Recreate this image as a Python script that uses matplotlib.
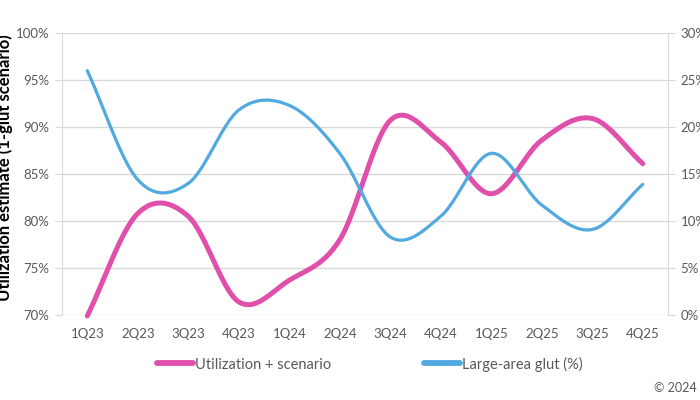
import numpy as np
import matplotlib
matplotlib.use("Agg")
import matplotlib.pyplot as plt
from matplotlib.ticker import FuncFormatter

quarters = ["1Q23", "2Q23", "3Q23", "4Q23", "1Q24", "2Q24", "3Q24", "4Q24",
            "1Q25", "2Q25", "3Q25", "4Q25"]
utilization = [69.9, 80.8, 80.5, 71.4, 73.7, 78.0, 90.7, 88.4, 82.9, 88.6, 90.9, 86.1]
glut = [26.0, 14.4, 14.0, 21.8, 22.3, 17.2, 8.3, 10.5, 17.2, 11.7, 9.1, 13.9]

PINK = "#E04FAA"
BLUE = "#52A9E0"
GRID = "#D9D9D9"
TXT = "#595959"

plt.rcParams['font.family'] = ['Lato', 'DejaVu Sans']


def smooth(y, n=30):
    """Catmull-Rom spline through the points (like Excel's smoothed line)."""
    y = np.asarray(y, float)
    x = np.arange(len(y), dtype=float)
    xs, ys = [], []
    for i in range(len(y) - 1):
        p0 = y[i - 1] if i > 0 else y[i]
        p1, p2 = y[i], y[i + 1]
        p3 = y[i + 2] if i + 2 < len(y) else y[i + 1]
        m1 = (p2 - p0) / (2 if i > 0 else 1)
        m2 = (p3 - p1) / (2 if i + 2 < len(y) else 1)
        t = np.linspace(0, 1, n, endpoint=(i == len(y) - 2))
        h00 = 2 * t**3 - 3 * t**2 + 1
        h10 = t**3 - 2 * t**2 + t
        h01 = -2 * t**3 + 3 * t**2
        h11 = t**3 - t**2
        ys.append(h00 * p1 + h10 * m1 + h01 * p2 + h11 * m2)
        xs.append(x[i] + t)
    return np.concatenate(xs), np.concatenate(ys)


fig = plt.figure(figsize=(7, 4), dpi=100)
ax = fig.add_axes([62 / 700, 1 - 315 / 400, (668 - 62) / 700, (315 - 33) / 400])
ax2 = ax.twinx()

x = np.arange(len(quarters))
xu, yu = smooth(utilization)
xg, yg = smooth(glut)
l1, = ax.plot(xu, yu, color=PINK, lw=3.6, solid_capstyle='round', zorder=3,
              label="Utilization + scenario")
l2, = ax2.plot(xg, yg, color=BLUE, lw=2.3, solid_capstyle='round', zorder=3,
               label="Large-area glut (%)")

ax.set_xlim(-0.5, len(quarters) - 0.5)
ax.set_ylim(70, 100)
ax.set_yticks(np.arange(70, 101, 5))
ax2.set_ylim(0, 30)
ax2.set_yticks(np.arange(0, 31, 5))
fmt = FuncFormatter(lambda v, p: f"{v:.0f}%")
ax.yaxis.set_major_formatter(fmt)
ax2.yaxis.set_major_formatter(fmt)
ax.set_xticks(x)
ax.set_xticklabels(quarters)

ax.grid(axis='y', color=GRID, lw=1)
ax.set_axisbelow(True)
for a in (ax, ax2):
    for s in ('top', 'bottom'):
        a.spines[s].set_visible(False)
ax.spines['right'].set_visible(False)
ax2.spines['left'].set_visible(False)
ax.spines['left'].set_color(GRID)
ax2.spines['right'].set_color(GRID)
ax.tick_params(axis='x', length=0, pad=9, labelsize=9.5, labelcolor=TXT)
ax.tick_params(axis='y', length=5, color=GRID, pad=4, labelsize=9.5, labelcolor=TXT)
ax2.tick_params(axis='y', length=5, color=GRID, pad=4, labelsize=9.5, labelcolor=TXT)
l1.set_clip_on(False)
l2.set_clip_on(False)

fig.text(5 / 700, 1 - 168 / 400, "Utilization estimate (1-glut scenario)",
         rotation=90, ha='center', va='center', fontsize=12, fontweight='bold',
         color='#000000')

leg = fig.legend(handles=[l1, l2], loc='center', bbox_to_anchor=(370 / 700, 1 - 364 / 400),
                 ncol=2, frameon=False, fontsize=10.5, labelcolor=TXT, handlelength=2.45,
                 handletextpad=0.15, columnspacing=6.4)
for h in leg.legend_handles:
    h.set_linewidth(4.2)

fig.text(697 / 700, 1 - 388 / 400, "© 2024", ha='right', va='center',
         fontsize=9, color=TXT)

fig.savefig("out.png", dpi=100)
